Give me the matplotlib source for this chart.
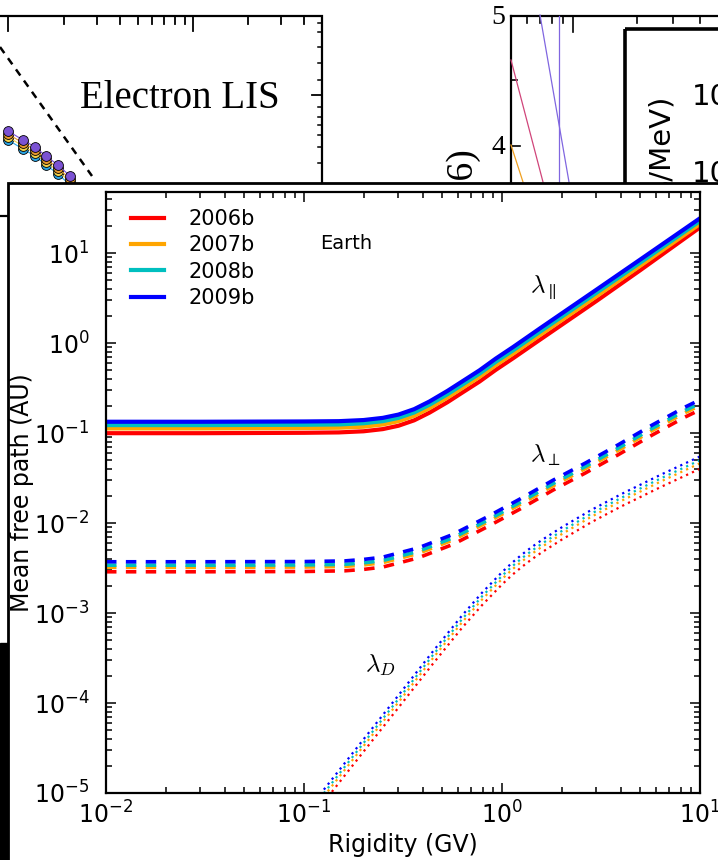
import matplotlib.pyplot as plt
from matplotlib.patches import Rectangle

# ---- data ----
years = ['2006b', '2007b', '2008b', '2009b']
colors = ['red', 'orange', 'c', 'blue']

# parallel mean free path (solid lines)
rig_par = [0.01, 0.03, 0.1, 0.15, 0.2, 0.25, 0.3, 0.36, 0.43, 0.53, 0.64, 0.77, 0.93, 1.14, 1.56, 3.0, 5.0, 10.0]
par_2006 = [0.100, 0.100, 0.101, 0.102, 0.105, 0.111, 0.121, 0.139, 0.169, 0.221, 0.289, 0.375, 0.506, 0.683, 1.10, 2.95, 6.5, 19.4]
par_2007 = [0.113, 0.113, 0.114, 0.115, 0.118, 0.125, 0.136, 0.156, 0.190, 0.249, 0.325, 0.423, 0.570, 0.769, 1.24, 3.33, 7.3, 21.2]
par_2008 = [0.123, 0.123, 0.124, 0.125, 0.129, 0.136, 0.148, 0.170, 0.207, 0.271, 0.354, 0.46, 0.621, 0.837, 1.35, 3.64, 7.9, 22.9]
par_2009 = [0.134, 0.134, 0.135, 0.136, 0.140, 0.148, 0.161, 0.185, 0.225, 0.295, 0.385, 0.50, 0.675, 0.91, 1.47, 3.94, 8.54, 24.5]

# perpendicular mean free path (dashed)
rig_perp = [0.01, 0.03, 0.1, 0.16, 0.2, 0.25, 0.3, 0.377, 0.566, 0.84, 1.23, 1.81, 2.63, 3.85, 5.73, 8.4, 10.0]
perp_2006 = [2.88e-3, 2.88e-3, 2.9e-3, 2.95e-3, 3.06e-3, 3.25e-3, 3.6e-3, 4.11e-3, 5.81e-3, 9.07e-3, 0.0143, 0.0233, 0.036, 0.0574, 0.0953, 0.151, 0.182]
perp_2007 = [3.23e-3, 3.23e-3, 3.25e-3, 3.30e-3, 3.43e-3, 3.64e-3, 4.04e-3, 4.6e-3, 6.51e-3, 0.0102, 0.0161, 0.026, 0.0403, 0.0642, 0.107, 0.169, 0.204]
perp_2008 = [3.41e-3, 3.41e-3, 3.43e-3, 3.48e-3, 3.62e-3, 3.84e-3, 4.26e-3, 4.86e-3, 6.88e-3, 0.0107, 0.0170, 0.0275, 0.0425, 0.0679, 0.113, 0.179, 0.215]
perp_2009 = [3.72e-3, 3.72e-3, 3.74e-3, 3.8e-3, 3.95e-3, 4.19e-3, 4.65e-3, 5.3e-3, 7.5e-3, 0.0117, 0.0185, 0.030, 0.0464, 0.074, 0.123, 0.195, 0.235]

# drift scale (dotted)
rig_drift = [0.1, 0.128, 0.2, 0.3, 0.45, 0.631, 0.794, 1.0, 1.122, 1.259, 1.413, 1.585, 2.0, 2.818, 3.981, 6.31, 10.0]
drift_2006 = [4.16e-6, 8.3e-6, 2.89e-5, 8.9e-5, 2.77e-4, 6.94e-4, 1.23e-3, 2.08e-3, 2.64e-3, 3.26e-3, 3.96e-3, 4.72e-3, 6.54e-3, 0.0102, 0.01526, 0.0251, 0.0402]
drift_2007 = [4.79e-6, 9.6e-6, 3.33e-5, 1.02e-4, 3.19e-4, 7.98e-4, 1.42e-3, 2.39e-3, 3.03e-3, 3.75e-3, 4.55e-3, 5.43e-3, 7.53e-3, 0.01173, 0.01756, 0.0289, 0.0463]
drift_2008 = [5.19e-6, 1.04e-5, 3.6e-5, 1.11e-4, 3.46e-4, 8.65e-4, 1.54e-3, 2.59e-3, 3.29e-3, 4.07e-3, 4.93e-3, 5.89e-3, 8.15e-3, 0.01271, 0.0190, 0.0313, 0.0501]
drift_2009 = [5.7e-6, 1.14e-5, 3.96e-5, 1.22e-4, 3.8e-4, 9.5e-4, 1.69e-3, 2.85e-3, 3.61e-3, 4.47e-3, 5.42e-3, 6.47e-3, 8.96e-3, 0.01397, 0.0209, 0.0344, 0.0551]

# bits of the neighbouring figures (pixel positions in the screenshot)
lis_dot_x = [8, 23, 35, 46, 58, 70]
lis_dot_y = [131, 140, 147, 156, 165, 176]
lis_major_x = [8, 193]
lis_minor_x = [64, 97, 120, 138, 152, 164, 175, 185, 248, 281, 304]
lis_right_y = [23, 32, 47, 63, 80, 107, 117, 125, 135, 147, 163]

W, H = 718, 860
fig = plt.figure(figsize=(W / 100, H / 100), dpi=100)

# ---- background collage ----
bg = fig.add_axes([0, 0, 1, 1])
bg.set_xlim(0, W)
bg.set_ylim(H, 0)
bg.axis('off')

# Electron LIS panel
bg.add_patch(Rectangle((-5, 15.5), 327, 200, fill=False, lw=1.6, ec='k', zorder=1))
for x in lis_major_x:
    bg.plot([x, x], [15.5, 31], color='k', lw=1.3, zorder=1)
for x in lis_minor_x:
    bg.plot([x, x], [15.5, 24], color='k', lw=1.3, zorder=1)
for y in lis_right_y:
    bg.plot([318, 322], [y, y], color='k', lw=1.1, zorder=1)
bg.plot([312, 322], [95, 95], color='k', lw=1.3, zorder=1)
bg.plot([0, 92], [47, 176], color='k', lw=1.8, ls=(0, (3, 2.5)), zorder=1)
for off, col in zip([9, 6, 3, 0], ['#2aa6e6', '#f2d24a', '#e99a2c', '#7b52d3']):
    bg.plot(lis_dot_x, [y + off for y in lis_dot_y], color=col, lw=0.8, zorder=2)
    bg.scatter(lis_dot_x, [y + off for y in lis_dot_y], s=50, color=col,
               edgecolor='k', linewidth=0.6, zorder=2)
bg.text(180, 108, 'Electron LIS', family='Liberation Serif', fontsize=28,
        ha='center', va='baseline', zorder=2)

# right-hand panel fragments
bg.plot([511, 511], [16, 200], color='k', lw=1.6, zorder=1)
bg.plot([511, 730], [16, 16], color='k', lw=1.6, zorder=1)
for x in [527, 540, 552, 563, 637, 673, 700]:
    bg.plot([x, x], [16, 23], color='k', lw=1.2, zorder=1)
bg.plot([573, 573], [16, 32], color='k', lw=1.2, zorder=1)
bg.plot([511, 517], [80, 80], color='k', lw=1.2, zorder=1)
bg.plot([511, 520], [146, 146], color='k', lw=1.2, zorder=1)
bg.text(505, 18, '5', family='Liberation Serif', fontsize=20, ha='right', va='center', zorder=2)
bg.text(505, 147, '4', family='Liberation Serif', fontsize=20, ha='right', va='center', zorder=2)
bg.plot([511, 543], [60, 182], color='#d0457a', lw=0.9, zorder=1)
bg.plot([540, 569], [15, 182], color='#8066e0', lw=0.9, zorder=1)
bg.plot([559, 559], [16, 182], color='#8066e0', lw=0.9, zorder=1)
bg.plot([511, 523], [145, 182], color='#f0a020', lw=0.9, zorder=1)
bg.add_patch(Rectangle((625, 28.5), 150, 200, fill=False, lw=2.6, ec='k', zorder=1))
bg.text(661, 95, 's/MeV)', fontsize=21, rotation=90, ha='center', va='top', zorder=2)
bg.text(692, 97, '10', fontsize=21, ha='left', va='center', zorder=2)
bg.text(692, 174, '10', fontsize=21, ha='left', va='center', zorder=2)
bg.text(462, 147, '(2006)', family='Liberation Serif', fontsize=27, rotation=90,
        ha='center', va='top', zorder=2)

# black strip at bottom left and the main panel itself
bg.add_patch(Rectangle((0, 643), 9, 220, color='k', zorder=3))
bg.add_patch(Rectangle((8, 182.5), 720, 690, fc='white', ec='k', lw=2.0, zorder=10))

# ---- main chart ----
ax = fig.add_axes([106 / W, 1 - 793 / H, 594 / W, 601 / H])
ax.set_xscale('log')
ax.set_yscale('log')

par_sets = [par_2006, par_2007, par_2008, par_2009]
perp_sets = [perp_2006, perp_2007, perp_2008, perp_2009]
drift_sets = [drift_2006, drift_2007, drift_2008, drift_2009]

for i in range(4):
    ax.plot(rig_par, par_sets[i], color=colors[i], lw=3, label=years[i])
    ax.plot(rig_perp, perp_sets[i], color=colors[i], lw=2.6, ls=(0, (2.9, 2.6)))
    ax.plot(rig_drift, drift_sets[i], color=colors[i], lw=1.6, ls=(0, (1, 1.9)))

ax.set_xlim(1e-2, 10)
ax.set_ylim(1e-5, 48)

ax.tick_params(which='both', direction='in', top=True, right=True, width=1.1)
ax.tick_params(which='major', length=7, labelsize=17)
ax.tick_params(which='minor', length=4)
ax.tick_params(axis='x', pad=6)
ax.tick_params(axis='y', pad=12)
for s in ax.spines.values():
    s.set_linewidth(1.6)

ax.set_xlabel('Rigidity (GV)', fontsize=17)
ax.set_ylabel('Mean free path (AU)', fontsize=17)
ax.xaxis.set_label_coords(0.5, -0.066)
ax.yaxis.set_label_coords(-0.122, 0.5)

ax.text(0.12, 12.9, 'Earth', fontsize=14, ha='left', va='center')
ax.text(1.38, 4.2, r'$\lambda_\parallel$', fontsize=18, math_fontfamily='cm', ha='left', va='center')
ax.text(1.38, 0.057, r'$\lambda_\perp$', fontsize=18, math_fontfamily='cm', ha='left', va='center')
ax.text(0.203, 2.6e-4, r'$\lambda_D$', fontsize=18, math_fontfamily='cm', ha='left', va='center')

ax.legend(loc='upper left', bbox_to_anchor=(0.028, 0.9855), frameon=False, fontsize=15,
          borderaxespad=0, borderpad=0.4, handlelength=1.6, handletextpad=1.15,
          labelspacing=0.3)

fig.savefig('out.png', dpi=100)
